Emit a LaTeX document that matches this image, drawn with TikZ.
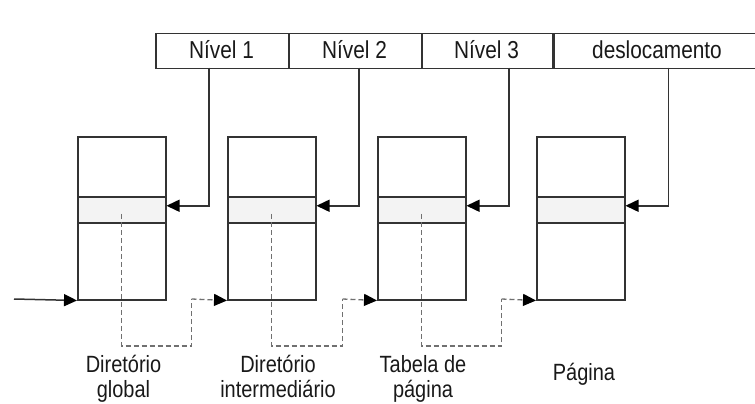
\documentclass[tikz,border=0pt]{standalone}
\usepackage{fontspec}
\usepackage{graphicx}
\setmainfont{Liberation Sans}
\usetikzlibrary{arrows.meta}
\definecolor{edge}{HTML}{333333}
\definecolor{dashgray}{HTML}{707070}
\definecolor{bandfill}{HTML}{F3F3F3}
\newcommand{\narrowtext}[1]{\scalebox{0.85}[1]{#1}}
\begin{document}
\begin{tikzpicture}[x=1pt,y=-1pt,
  cell/.style={draw=edge, line width=1.5pt, anchor=north west, inner sep=0pt,
    minimum height=35pt},
  cellt/.style={anchor=base, font=\fontsize{24.5}{26}\selectfont, text=black!90},
  frame/.style={draw=edge, line width=1.5pt, anchor=north west, inner sep=0pt,
    minimum width=88pt, minimum height=163pt},
  band/.style={draw=edge, fill=bandfill, line width=1.5pt, anchor=north west,
    inner sep=0pt, minimum width=88pt, minimum height=26pt},
  arr/.style={draw=edge, line width=1.5pt, -{Triangle[length=13pt,width=12pt,color=black]}},
  dasharr/.style={draw=dashgray, line width=1.3pt, dash pattern=on 5pt off 3pt,
    -{Triangle[length=13pt,width=12pt,color=black]}},
  dashline/.style={draw=dashgray, line width=1.3pt, dash pattern=on 5pt off 3pt},
  lbl/.style={anchor=base, font=\fontsize{23.5}{25}\selectfont, text=black!90}]
\useasboundingbox (0,0) rectangle (755,404);

% address fields
\node[cell, minimum width=133pt] (n1) at (155,32.7) {};
\node[cell, minimum width=133pt] (n2) at (288,32.7) {};
\node[cell, minimum width=132pt] (n3) at (421,32.7) {};
\node[cell, minimum width=204pt] (desl) at (552,32.7) {};
\node[cellt] (tn1) at (221.5,58.4) {\narrowtext{Nível 1}};
\node[cellt] (tn2) at (354.5,58.4) {\narrowtext{Nível 2}};
\node[cellt] (tn3) at (486.5,58.4) {\narrowtext{Nível 3}};
\node[cellt] (tdesl) at (657,58.4) {\narrowtext{deslocamento}};

% tables
\node[frame] (b1) at (77,136) {};
\node[frame] (b2) at (227,136) {};
\node[frame] (b3) at (377,136) {};
\node[frame] (b4) at (536,136) {};
\node[band] (e1) at (77,196) {};
\node[band] (e2) at (227,196) {};
\node[band] (e3) at (377,196) {};
\node[band] (e4) at (536,196) {};

% field taps
\coordinate (t1) at (209,67.7);
\coordinate (t2) at (359,67.7);
\coordinate (t3) at (509,67.7);
\coordinate (t4) at (668.5,67.7);
\draw[arr] (t1) |- ([yshift=4pt]e1.east);
\draw[arr] (t2) |- ([yshift=4pt]e2.east);
\draw[arr] (t3) |- ([yshift=4pt]e3.east);
\draw[arr] (t4) |- ([yshift=4pt]e4.east);

% base address input
\coordinate (in) at (14,299);
\draw[arr] (in) -- (b1.south west);

% links between levels
\coordinate (d1) at (191.5,299);
\coordinate (d2) at (342.5,299);
\coordinate (d3) at (501.5,299);
\draw[dashline] ([yshift=-4pt]e1.center) |- (d1 |- 0,346) -- (d1);
\draw[dasharr] (d1) -- (b2.south west);
\draw[dashline] ([yshift=-4pt]e2.center) |- (d2 |- 0,346) -- (d2);
\draw[dasharr] (d2) -- (b3.south west);
\draw[dashline] ([yshift=-4pt]e3.center) |- (d3 |- 0,346) -- (d3);
\draw[dasharr] (d3) -- (b4.south west);

% captions
\node[lbl] (c1) at (123.5,372) {\narrowtext{\begin{tabular}[t]{@{}c@{}}Diretório\\global\end{tabular}}};
\node[lbl] (c2) at (278,372) {\narrowtext{\begin{tabular}[t]{@{}c@{}}Diretório\\intermediário\end{tabular}}};
\node[lbl] (c3) at (423,372) {\narrowtext{\begin{tabular}[t]{@{}c@{}}Tabela de\\página\end{tabular}}};
\node[lbl] (c4) at (584,380) {\narrowtext{Página}};
\end{tikzpicture}
\end{document}
